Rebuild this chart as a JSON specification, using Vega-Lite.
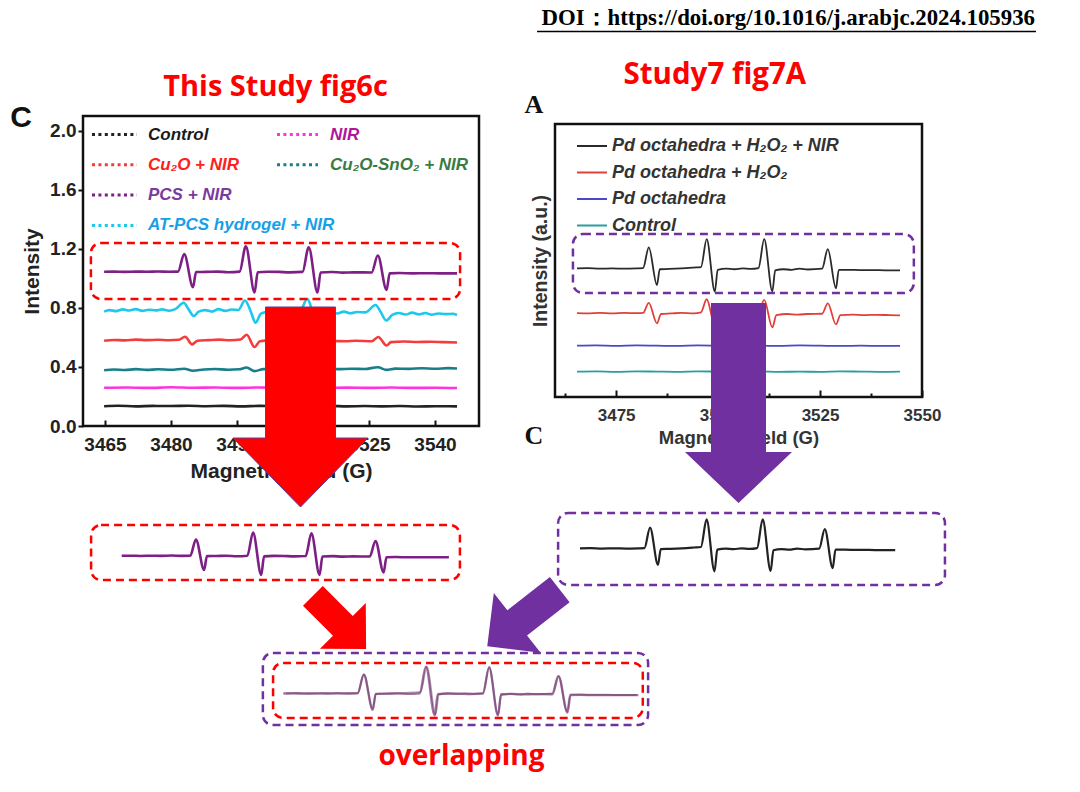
{
"$schema": "https://vega.github.io/schema/vega-lite/v6.json",
"width": 1080, "height": 792, "autosize": {"type": "none"}, "padding": 0, "background": "#ffffff",
"config": {"view": {"stroke": null}, "axis": {"grid": false}},
"datasets": {
"fig6c": [
{"field":3464.8,"intensity":0.134,"sample":"Control"},{"field":3468,"intensity":0.137,"sample":"Control"},{"field":3472,"intensity":0.133,"sample":"Control"},{"field":3476,"intensity":0.136,"sample":"Control"},{"field":3480,"intensity":0.135,"sample":"Control"},{"field":3484,"intensity":0.137,"sample":"Control"},{"field":3488,"intensity":0.134,"sample":"Control"},{"field":3492,"intensity":0.136,"sample":"Control"},{"field":3496,"intensity":0.133,"sample":"Control"},{"field":3500,"intensity":0.136,"sample":"Control"},{"field":3504,"intensity":0.134,"sample":"Control"},{"field":3508,"intensity":0.137,"sample":"Control"},{"field":3512,"intensity":0.134,"sample":"Control"},{"field":3516,"intensity":0.136,"sample":"Control"},{"field":3520,"intensity":0.133,"sample":"Control"},{"field":3524,"intensity":0.135,"sample":"Control"},{"field":3528,"intensity":0.133,"sample":"Control"},{"field":3532,"intensity":0.135,"sample":"Control"},{"field":3536,"intensity":0.132,"sample":"Control"},{"field":3540,"intensity":0.134,"sample":"Control"},{"field":3545,"intensity":0.133,"sample":"Control"},
{"field":3464.8,"intensity":0.259,"sample":"NIR"},{"field":3470,"intensity":0.261,"sample":"NIR"},{"field":3475,"intensity":0.258,"sample":"NIR"},{"field":3480,"intensity":0.262,"sample":"NIR"},{"field":3485,"intensity":0.259,"sample":"NIR"},{"field":3490,"intensity":0.261,"sample":"NIR"},{"field":3495,"intensity":0.258,"sample":"NIR"},{"field":3500,"intensity":0.261,"sample":"NIR"},{"field":3505,"intensity":0.259,"sample":"NIR"},{"field":3510,"intensity":0.262,"sample":"NIR"},{"field":3515,"intensity":0.258,"sample":"NIR"},{"field":3520,"intensity":0.26,"sample":"NIR"},{"field":3525,"intensity":0.258,"sample":"NIR"},{"field":3530,"intensity":0.261,"sample":"NIR"},{"field":3535,"intensity":0.258,"sample":"NIR"},{"field":3540,"intensity":0.259,"sample":"NIR"},{"field":3545,"intensity":0.257,"sample":"NIR"},
{"field":3464.8,"intensity":0.378,"sample":"Cu₂O-SnO₂ + NIR"},{"field":3467,"intensity":0.383,"sample":"Cu₂O-SnO₂ + NIR"},{"field":3469.5,"intensity":0.379,"sample":"Cu₂O-SnO₂ + NIR"},{"field":3472,"intensity":0.385,"sample":"Cu₂O-SnO₂ + NIR"},{"field":3474.5,"intensity":0.38,"sample":"Cu₂O-SnO₂ + NIR"},{"field":3477,"intensity":0.384,"sample":"Cu₂O-SnO₂ + NIR"},{"field":3480,"intensity":0.381,"sample":"Cu₂O-SnO₂ + NIR"},{"field":3483,"intensity":0.388,"sample":"Cu₂O-SnO₂ + NIR"},{"field":3485,"intensity":0.374,"sample":"Cu₂O-SnO₂ + NIR"},{"field":3487.5,"intensity":0.383,"sample":"Cu₂O-SnO₂ + NIR"},{"field":3490,"intensity":0.386,"sample":"Cu₂O-SnO₂ + NIR"},{"field":3493,"intensity":0.381,"sample":"Cu₂O-SnO₂ + NIR"},{"field":3495.5,"intensity":0.384,"sample":"Cu₂O-SnO₂ + NIR"},{"field":3497.2,"intensity":0.396,"sample":"Cu₂O-SnO₂ + NIR"},{"field":3499,"intensity":0.372,"sample":"Cu₂O-SnO₂ + NIR"},{"field":3501,"intensity":0.385,"sample":"Cu₂O-SnO₂ + NIR"},{"field":3504,"intensity":0.383,"sample":"Cu₂O-SnO₂ + NIR"},{"field":3507,"intensity":0.387,"sample":"Cu₂O-SnO₂ + NIR"},{"field":3510,"intensity":0.384,"sample":"Cu₂O-SnO₂ + NIR"},{"field":3511.5,"intensity":0.397,"sample":"Cu₂O-SnO₂ + NIR"},{"field":3513.3,"intensity":0.376,"sample":"Cu₂O-SnO₂ + NIR"},{"field":3515,"intensity":0.387,"sample":"Cu₂O-SnO₂ + NIR"},{"field":3518,"intensity":0.385,"sample":"Cu₂O-SnO₂ + NIR"},{"field":3521,"intensity":0.388,"sample":"Cu₂O-SnO₂ + NIR"},{"field":3524,"intensity":0.386,"sample":"Cu₂O-SnO₂ + NIR"},{"field":3527,"intensity":0.398,"sample":"Cu₂O-SnO₂ + NIR"},{"field":3529,"intensity":0.38,"sample":"Cu₂O-SnO₂ + NIR"},{"field":3531,"intensity":0.389,"sample":"Cu₂O-SnO₂ + NIR"},{"field":3534,"intensity":0.387,"sample":"Cu₂O-SnO₂ + NIR"},{"field":3537,"intensity":0.391,"sample":"Cu₂O-SnO₂ + NIR"},{"field":3540,"intensity":0.388,"sample":"Cu₂O-SnO₂ + NIR"},{"field":3543,"intensity":0.392,"sample":"Cu₂O-SnO₂ + NIR"},{"field":3545,"intensity":0.39,"sample":"Cu₂O-SnO₂ + NIR"},
{"field":3464.8,"intensity":0.578,"sample":"Cu₂O + NIR"},{"field":3467,"intensity":0.583,"sample":"Cu₂O + NIR"},{"field":3469.5,"intensity":0.58,"sample":"Cu₂O + NIR"},{"field":3472,"intensity":0.585,"sample":"Cu₂O + NIR"},{"field":3474.5,"intensity":0.582,"sample":"Cu₂O + NIR"},{"field":3477,"intensity":0.584,"sample":"Cu₂O + NIR"},{"field":3479.5,"intensity":0.581,"sample":"Cu₂O + NIR"},{"field":3481.8,"intensity":0.584,"sample":"Cu₂O + NIR"},{"field":3483.2,"intensity":0.605,"sample":"Cu₂O + NIR"},{"field":3484.8,"intensity":0.553,"sample":"Cu₂O + NIR"},{"field":3486,"intensity":0.578,"sample":"Cu₂O + NIR"},{"field":3488.5,"intensity":0.582,"sample":"Cu₂O + NIR"},{"field":3491,"intensity":0.585,"sample":"Cu₂O + NIR"},{"field":3493.5,"intensity":0.581,"sample":"Cu₂O + NIR"},{"field":3495.8,"intensity":0.586,"sample":"Cu₂O + NIR"},{"field":3497.2,"intensity":0.618,"sample":"Cu₂O + NIR"},{"field":3499,"intensity":0.535,"sample":"Cu₂O + NIR"},{"field":3500.2,"intensity":0.574,"sample":"Cu₂O + NIR"},{"field":3502.5,"intensity":0.58,"sample":"Cu₂O + NIR"},{"field":3505,"intensity":0.578,"sample":"Cu₂O + NIR"},{"field":3507.5,"intensity":0.581,"sample":"Cu₂O + NIR"},{"field":3510,"intensity":0.578,"sample":"Cu₂O + NIR"},{"field":3511.4,"intensity":0.612,"sample":"Cu₂O + NIR"},{"field":3513.3,"intensity":0.538,"sample":"Cu₂O + NIR"},{"field":3514.4,"intensity":0.572,"sample":"Cu₂O + NIR"},{"field":3517,"intensity":0.576,"sample":"Cu₂O + NIR"},{"field":3519.5,"intensity":0.574,"sample":"Cu₂O + NIR"},{"field":3522,"intensity":0.577,"sample":"Cu₂O + NIR"},{"field":3525.6,"intensity":0.574,"sample":"Cu₂O + NIR"},{"field":3527.1,"intensity":0.603,"sample":"Cu₂O + NIR"},{"field":3529,"intensity":0.545,"sample":"Cu₂O + NIR"},{"field":3530,"intensity":0.568,"sample":"Cu₂O + NIR"},{"field":3533,"intensity":0.572,"sample":"Cu₂O + NIR"},{"field":3536,"intensity":0.569,"sample":"Cu₂O + NIR"},{"field":3539,"intensity":0.571,"sample":"Cu₂O + NIR"},{"field":3542,"intensity":0.568,"sample":"Cu₂O + NIR"},{"field":3545,"intensity":0.566,"sample":"Cu₂O + NIR"},
{"field":3464.8,"intensity":0.775,"sample":"AT-PCS hydrogel + NIR"},{"field":3466,"intensity":0.785,"sample":"AT-PCS hydrogel + NIR"},{"field":3467.5,"intensity":0.778,"sample":"AT-PCS hydrogel + NIR"},{"field":3469,"intensity":0.79,"sample":"AT-PCS hydrogel + NIR"},{"field":3470.5,"intensity":0.782,"sample":"AT-PCS hydrogel + NIR"},{"field":3472,"intensity":0.792,"sample":"AT-PCS hydrogel + NIR"},{"field":3473.5,"intensity":0.78,"sample":"AT-PCS hydrogel + NIR"},{"field":3475,"intensity":0.788,"sample":"AT-PCS hydrogel + NIR"},{"field":3476.5,"intensity":0.783,"sample":"AT-PCS hydrogel + NIR"},{"field":3478,"intensity":0.79,"sample":"AT-PCS hydrogel + NIR"},{"field":3479.5,"intensity":0.781,"sample":"AT-PCS hydrogel + NIR"},{"field":3481,"intensity":0.792,"sample":"AT-PCS hydrogel + NIR"},{"field":3482.9,"intensity":0.835,"sample":"AT-PCS hydrogel + NIR"},{"field":3484,"intensity":0.79,"sample":"AT-PCS hydrogel + NIR"},{"field":3485.2,"intensity":0.745,"sample":"AT-PCS hydrogel + NIR"},{"field":3486.3,"intensity":0.775,"sample":"AT-PCS hydrogel + NIR"},{"field":3487.8,"intensity":0.785,"sample":"AT-PCS hydrogel + NIR"},{"field":3489.3,"intensity":0.775,"sample":"AT-PCS hydrogel + NIR"},{"field":3490.8,"intensity":0.792,"sample":"AT-PCS hydrogel + NIR"},{"field":3492.3,"intensity":0.78,"sample":"AT-PCS hydrogel + NIR"},{"field":3493.8,"intensity":0.789,"sample":"AT-PCS hydrogel + NIR"},{"field":3495.3,"intensity":0.786,"sample":"AT-PCS hydrogel + NIR"},{"field":3496.8,"intensity":0.85,"sample":"AT-PCS hydrogel + NIR"},{"field":3498.2,"intensity":0.77,"sample":"AT-PCS hydrogel + NIR"},{"field":3499.2,"intensity":0.7,"sample":"AT-PCS hydrogel + NIR"},{"field":3500.4,"intensity":0.76,"sample":"AT-PCS hydrogel + NIR"},{"field":3501.8,"intensity":0.775,"sample":"AT-PCS hydrogel + NIR"},{"field":3503.3,"intensity":0.79,"sample":"AT-PCS hydrogel + NIR"},{"field":3504.8,"intensity":0.772,"sample":"AT-PCS hydrogel + NIR"},{"field":3506.3,"intensity":0.785,"sample":"AT-PCS hydrogel + NIR"},{"field":3507.8,"intensity":0.768,"sample":"AT-PCS hydrogel + NIR"},{"field":3509.3,"intensity":0.778,"sample":"AT-PCS hydrogel + NIR"},{"field":3511,"intensity":0.86,"sample":"AT-PCS hydrogel + NIR"},{"field":3512.3,"intensity":0.765,"sample":"AT-PCS hydrogel + NIR"},{"field":3513.5,"intensity":0.705,"sample":"AT-PCS hydrogel + NIR"},{"field":3514.8,"intensity":0.76,"sample":"AT-PCS hydrogel + NIR"},{"field":3516.3,"intensity":0.772,"sample":"AT-PCS hydrogel + NIR"},{"field":3517.8,"intensity":0.762,"sample":"AT-PCS hydrogel + NIR"},{"field":3519.3,"intensity":0.775,"sample":"AT-PCS hydrogel + NIR"},{"field":3520.8,"intensity":0.764,"sample":"AT-PCS hydrogel + NIR"},{"field":3522.3,"intensity":0.772,"sample":"AT-PCS hydrogel + NIR"},{"field":3524.2,"intensity":0.77,"sample":"AT-PCS hydrogel + NIR"},{"field":3526.5,"intensity":0.82,"sample":"AT-PCS hydrogel + NIR"},{"field":3527.7,"intensity":0.77,"sample":"AT-PCS hydrogel + NIR"},{"field":3528.9,"intensity":0.715,"sample":"AT-PCS hydrogel + NIR"},{"field":3530.3,"intensity":0.752,"sample":"AT-PCS hydrogel + NIR"},{"field":3531.8,"intensity":0.765,"sample":"AT-PCS hydrogel + NIR"},{"field":3533.3,"intensity":0.755,"sample":"AT-PCS hydrogel + NIR"},{"field":3534.8,"intensity":0.768,"sample":"AT-PCS hydrogel + NIR"},{"field":3536.3,"intensity":0.756,"sample":"AT-PCS hydrogel + NIR"},{"field":3537.8,"intensity":0.765,"sample":"AT-PCS hydrogel + NIR"},{"field":3539.3,"intensity":0.754,"sample":"AT-PCS hydrogel + NIR"},{"field":3540.8,"intensity":0.762,"sample":"AT-PCS hydrogel + NIR"},{"field":3542.3,"intensity":0.758,"sample":"AT-PCS hydrogel + NIR"},{"field":3544,"intensity":0.76,"sample":"AT-PCS hydrogel + NIR"},{"field":3545,"intensity":0.752,"sample":"AT-PCS hydrogel + NIR"},
{"field":3464.8,"intensity":1.045,"sample":"PCS + NIR"},{"field":3467,"intensity":1.046,"sample":"PCS + NIR"},{"field":3469.5,"intensity":1.044,"sample":"PCS + NIR"},{"field":3472,"intensity":1.046,"sample":"PCS + NIR"},{"field":3474.5,"intensity":1.045,"sample":"PCS + NIR"},{"field":3477,"intensity":1.047,"sample":"PCS + NIR"},{"field":3479.5,"intensity":1.045,"sample":"PCS + NIR"},{"field":3481.6,"intensity":1.046,"sample":"PCS + NIR"},{"field":3483,"intensity":1.165,"sample":"PCS + NIR"},{"field":3485,"intensity":0.94,"sample":"PCS + NIR"},{"field":3485.7,"intensity":1.043,"sample":"PCS + NIR"},{"field":3488,"intensity":1.044,"sample":"PCS + NIR"},{"field":3490.5,"intensity":1.046,"sample":"PCS + NIR"},{"field":3493,"intensity":1.042,"sample":"PCS + NIR"},{"field":3495.6,"intensity":1.046,"sample":"PCS + NIR"},{"field":3497,"intensity":1.217,"sample":"PCS + NIR"},{"field":3499,"intensity":0.904,"sample":"PCS + NIR"},{"field":3499.7,"intensity":1.041,"sample":"PCS + NIR"},{"field":3502,"intensity":1.045,"sample":"PCS + NIR"},{"field":3504.5,"intensity":1.044,"sample":"PCS + NIR"},{"field":3507,"intensity":1.041,"sample":"PCS + NIR"},{"field":3509.9,"intensity":1.044,"sample":"PCS + NIR"},{"field":3511.3,"intensity":1.211,"sample":"PCS + NIR"},{"field":3513.3,"intensity":0.904,"sample":"PCS + NIR"},{"field":3514,"intensity":1.04,"sample":"PCS + NIR"},{"field":3516.5,"intensity":1.043,"sample":"PCS + NIR"},{"field":3519,"intensity":1.039,"sample":"PCS + NIR"},{"field":3521.5,"intensity":1.041,"sample":"PCS + NIR"},{"field":3525.6,"intensity":1.04,"sample":"PCS + NIR"},{"field":3527,"intensity":1.155,"sample":"PCS + NIR"},{"field":3529,"intensity":0.922,"sample":"PCS + NIR"},{"field":3529.7,"intensity":1.034,"sample":"PCS + NIR"},{"field":3532,"intensity":1.036,"sample":"PCS + NIR"},{"field":3535,"intensity":1.034,"sample":"PCS + NIR"},{"field":3538,"intensity":1.035,"sample":"PCS + NIR"},{"field":3541,"intensity":1.034,"sample":"PCS + NIR"},{"field":3545,"intensity":1.034,"sample":"PCS + NIR"}
],
"fig7a": [
{"field":3465.4,"intensity":0.93,"sample":"Control"},{"field":3470,"intensity":0.94,"sample":"Control"},{"field":3475,"intensity":0.92,"sample":"Control"},{"field":3480,"intensity":0.94,"sample":"Control"},{"field":3485,"intensity":0.93,"sample":"Control"},{"field":3490,"intensity":0.92,"sample":"Control"},{"field":3495,"intensity":0.94,"sample":"Control"},{"field":3500,"intensity":0.93,"sample":"Control"},{"field":3505,"intensity":0.92,"sample":"Control"},{"field":3510,"intensity":0.94,"sample":"Control"},{"field":3515,"intensity":0.92,"sample":"Control"},{"field":3520,"intensity":0.93,"sample":"Control"},{"field":3525,"intensity":0.92,"sample":"Control"},{"field":3530,"intensity":0.94,"sample":"Control"},{"field":3535,"intensity":0.93,"sample":"Control"},{"field":3540,"intensity":0.92,"sample":"Control"},{"field":3544.6,"intensity":0.93,"sample":"Control"},
{"field":3465.4,"intensity":1.88,"sample":"Pd octahedra"},{"field":3470,"intensity":1.89,"sample":"Pd octahedra"},{"field":3475,"intensity":1.87,"sample":"Pd octahedra"},{"field":3480,"intensity":1.89,"sample":"Pd octahedra"},{"field":3485,"intensity":1.88,"sample":"Pd octahedra"},{"field":3490,"intensity":1.87,"sample":"Pd octahedra"},{"field":3495,"intensity":1.89,"sample":"Pd octahedra"},{"field":3500,"intensity":1.88,"sample":"Pd octahedra"},{"field":3505,"intensity":1.86,"sample":"Pd octahedra"},{"field":3510,"intensity":1.88,"sample":"Pd octahedra"},{"field":3515,"intensity":1.87,"sample":"Pd octahedra"},{"field":3520,"intensity":1.89,"sample":"Pd octahedra"},{"field":3525,"intensity":1.88,"sample":"Pd octahedra"},{"field":3530,"intensity":1.87,"sample":"Pd octahedra"},{"field":3535,"intensity":1.88,"sample":"Pd octahedra"},{"field":3540,"intensity":1.87,"sample":"Pd octahedra"},{"field":3544.6,"intensity":1.87,"sample":"Pd octahedra"},
{"field":3465.4,"intensity":3.07,"sample":"Pd octahedra  + H₂O₂"},{"field":3468,"intensity":3.06,"sample":"Pd octahedra  + H₂O₂"},{"field":3471,"intensity":3.08,"sample":"Pd octahedra  + H₂O₂"},{"field":3474,"intensity":3.06,"sample":"Pd octahedra  + H₂O₂"},{"field":3477,"intensity":3.08,"sample":"Pd octahedra  + H₂O₂"},{"field":3480,"intensity":3.07,"sample":"Pd octahedra  + H₂O₂"},{"field":3481.6,"intensity":3.08,"sample":"Pd octahedra  + H₂O₂"},{"field":3483,"intensity":3.45,"sample":"Pd octahedra  + H₂O₂"},{"field":3485,"intensity":2.7,"sample":"Pd octahedra  + H₂O₂"},{"field":3486,"intensity":3.04,"sample":"Pd octahedra  + H₂O₂"},{"field":3488.5,"intensity":3.06,"sample":"Pd octahedra  + H₂O₂"},{"field":3491,"intensity":3.08,"sample":"Pd octahedra  + H₂O₂"},{"field":3494,"intensity":3.06,"sample":"Pd octahedra  + H₂O₂"},{"field":3495.8,"intensity":3.1,"sample":"Pd octahedra  + H₂O₂"},{"field":3497.2,"intensity":3.58,"sample":"Pd octahedra  + H₂O₂"},{"field":3499.2,"intensity":2.62,"sample":"Pd octahedra  + H₂O₂"},{"field":3500.2,"intensity":3.02,"sample":"Pd octahedra  + H₂O₂"},{"field":3502.5,"intensity":3.05,"sample":"Pd octahedra  + H₂O₂"},{"field":3505,"intensity":3.04,"sample":"Pd octahedra  + H₂O₂"},{"field":3507.5,"intensity":3.06,"sample":"Pd octahedra  + H₂O₂"},{"field":3509.9,"intensity":3.08,"sample":"Pd octahedra  + H₂O₂"},{"field":3511.3,"intensity":3.56,"sample":"Pd octahedra  + H₂O₂"},{"field":3513.3,"intensity":2.55,"sample":"Pd octahedra  + H₂O₂"},{"field":3514.3,"intensity":3.0,"sample":"Pd octahedra  + H₂O₂"},{"field":3517,"intensity":3.04,"sample":"Pd octahedra  + H₂O₂"},{"field":3519.5,"intensity":3.02,"sample":"Pd octahedra  + H₂O₂"},{"field":3522,"intensity":3.04,"sample":"Pd octahedra  + H₂O₂"},{"field":3525.5,"intensity":3.05,"sample":"Pd octahedra  + H₂O₂"},{"field":3526.9,"intensity":3.43,"sample":"Pd octahedra  + H₂O₂"},{"field":3528.9,"intensity":2.66,"sample":"Pd octahedra  + H₂O₂"},{"field":3530,"intensity":3.0,"sample":"Pd octahedra  + H₂O₂"},{"field":3533,"intensity":3.02,"sample":"Pd octahedra  + H₂O₂"},{"field":3536,"intensity":3.0,"sample":"Pd octahedra  + H₂O₂"},{"field":3539,"intensity":3.01,"sample":"Pd octahedra  + H₂O₂"},{"field":3542,"intensity":3.0,"sample":"Pd octahedra  + H₂O₂"},{"field":3544.6,"intensity":2.99,"sample":"Pd octahedra  + H₂O₂"},
{"field":3465.4,"intensity":4.71,"sample":"Pd octahedra + H₂O₂ + NIR"},{"field":3468,"intensity":4.72,"sample":"Pd octahedra + H₂O₂ + NIR"},{"field":3471,"intensity":4.7,"sample":"Pd octahedra + H₂O₂ + NIR"},{"field":3474,"intensity":4.71,"sample":"Pd octahedra + H₂O₂ + NIR"},{"field":3477,"intensity":4.7,"sample":"Pd octahedra + H₂O₂ + NIR"},{"field":3480,"intensity":4.71,"sample":"Pd octahedra + H₂O₂ + NIR"},{"field":3481.6,"intensity":4.72,"sample":"Pd octahedra + H₂O₂ + NIR"},{"field":3483,"intensity":5.48,"sample":"Pd octahedra + H₂O₂ + NIR"},{"field":3485,"intensity":4.1,"sample":"Pd octahedra + H₂O₂ + NIR"},{"field":3485.7,"intensity":4.68,"sample":"Pd octahedra + H₂O₂ + NIR"},{"field":3488,"intensity":4.69,"sample":"Pd octahedra + H₂O₂ + NIR"},{"field":3491,"intensity":4.71,"sample":"Pd octahedra + H₂O₂ + NIR"},{"field":3494,"intensity":4.74,"sample":"Pd octahedra + H₂O₂ + NIR"},{"field":3495.8,"intensity":4.76,"sample":"Pd octahedra + H₂O₂ + NIR"},{"field":3497.2,"intensity":5.78,"sample":"Pd octahedra + H₂O₂ + NIR"},{"field":3499.2,"intensity":3.86,"sample":"Pd octahedra + H₂O₂ + NIR"},{"field":3499.9,"intensity":4.66,"sample":"Pd octahedra + H₂O₂ + NIR"},{"field":3502,"intensity":4.7,"sample":"Pd octahedra + H₂O₂ + NIR"},{"field":3504,"intensity":4.68,"sample":"Pd octahedra + H₂O₂ + NIR"},{"field":3506,"intensity":4.71,"sample":"Pd octahedra + H₂O₂ + NIR"},{"field":3508,"intensity":4.69,"sample":"Pd octahedra + H₂O₂ + NIR"},{"field":3509.9,"intensity":4.72,"sample":"Pd octahedra + H₂O₂ + NIR"},{"field":3511.3,"intensity":5.78,"sample":"Pd octahedra + H₂O₂ + NIR"},{"field":3513.3,"intensity":3.87,"sample":"Pd octahedra + H₂O₂ + NIR"},{"field":3514,"intensity":4.64,"sample":"Pd octahedra + H₂O₂ + NIR"},{"field":3516,"intensity":4.68,"sample":"Pd octahedra + H₂O₂ + NIR"},{"field":3518,"intensity":4.66,"sample":"Pd octahedra + H₂O₂ + NIR"},{"field":3520,"intensity":4.7,"sample":"Pd octahedra + H₂O₂ + NIR"},{"field":3522,"intensity":4.67,"sample":"Pd octahedra + H₂O₂ + NIR"},{"field":3525.5,"intensity":4.7,"sample":"Pd octahedra + H₂O₂ + NIR"},{"field":3526.9,"intensity":5.42,"sample":"Pd octahedra + H₂O₂ + NIR"},{"field":3528.9,"intensity":3.98,"sample":"Pd octahedra + H₂O₂ + NIR"},{"field":3529.6,"intensity":4.66,"sample":"Pd octahedra + H₂O₂ + NIR"},{"field":3532,"intensity":4.66,"sample":"Pd octahedra + H₂O₂ + NIR"},{"field":3535,"intensity":4.65,"sample":"Pd octahedra + H₂O₂ + NIR"},{"field":3538,"intensity":4.65,"sample":"Pd octahedra + H₂O₂ + NIR"},{"field":3541,"intensity":4.64,"sample":"Pd octahedra + H₂O₂ + NIR"},{"field":3544.6,"intensity":4.64,"sample":"Pd octahedra + H₂O₂ + NIR"}
]
},
"resolve": {"scale": {"x": "independent", "y": "independent", "color": "independent"}, "axis": {"x": "independent", "y": "independent"}, "legend": {"color": "independent"}},
"layer": [
{"data": {"values": [{}]}, "mark": {"type": "rect", "filled": false, "stroke": "#111111", "strokeWidth": 2.5},
 "encoding": {"x": {"datum": 3460, "type": "quantitative", "scale": {"domain":[3460,3550],"range":[83,479],"nice":false,"zero":false}, "axis": null}, "x2": {"datum": 3550},
  "y": {"datum": 0, "type": "quantitative", "scale": {"domain":[0,2.1],"range":[426,116],"nice":false,"zero":false}, "axis": null}, "y2": {"datum": 2.1}}},
{"data": {"name": "fig6c"}, "transform": [{"filter": {"field": "sample", "oneOf": ["Control", "Cu₂O + NIR", "PCS + NIR", "AT-PCS hydrogel + NIR"]}}],
 "mark": {"type": "line", "strokeWidth": 2.6, "interpolate": "monotone"},
 "encoding": {
  "x": {"field": "field", "type": "quantitative", "scale": {"domain":[3460,3550],"range":[83,479],"nice":false,"zero":false},
   "axis": {"orient": "bottom", "offset": -366, "values": [3465,3480,3495,3510,3525,3540], "format": "d", "domain": false, "tickSize": -6, "tickWidth": 2, "tickColor": "#111111", "labelFont": "Liberation Sans", "labelFontSize": 19, "labelFontWeight": "bold", "labelColor": "#222222", "labelPadding": 15, "labelOverlap": false, "labelFlush": false, "title": "Magnetic Field (G)", "titleFont": "Liberation Sans", "titleFontSize": 21, "titleFontWeight": "bold", "titleColor": "#222222", "titlePadding": 6, "grid": false}},
  "y": {"field": "intensity", "type": "quantitative", "scale": {"domain":[0,2.1],"range":[426,116],"nice":false,"zero":false},
   "axis": {"orient": "left", "offset": -83, "values": [0,0.4,0.8,1.2,1.6,2.0], "format": ".1f", "domain": false, "tickSize": 5, "tickWidth": 2, "tickColor": "#111111", "labelFont": "Liberation Sans", "labelFontSize": 19, "labelFontWeight": "bold", "labelColor": "#222222", "labelPadding": 2, "labelOverlap": false, "labelFlush": false, "title": "Intensity", "titleFont": "Liberation Sans", "titleFontSize": 21, "titleFontWeight": "bold", "titleColor": "#222222", "titlePadding": 7, "grid": false}},
  "color": {"field": "sample", "type": "nominal", "scale": {"domain": ["Control", "Cu₂O + NIR", "PCS + NIR", "AT-PCS hydrogel + NIR"], "range": ["#222222", "#f43c3c", "#7e1f86", "#1ec8ec"]},
   "legend": {"orient": "none", "legendX": 92, "legendY": 123, "title": null, "padding": 0, "symbolType": "M-2.25,0H2.25", "symbolSize": 400, "symbolStrokeWidth": 3, "symbolDash": [3, 3.4], "symbolOffset": 11, "symbolFillColor": "transparent", "labelFont": "Liberation Sans", "labelFontSize": 17, "labelFontStyle": "italic", "labelFontWeight": "bold", "labelOffset": 22, "labelLimit": 400, "rowPadding": 10.3,
    "encode": {"labels": {"update": {"fill": {"signal": "datum.value === 'Control' ? '#1a1a1a' : datum.value === 'Cu₂O + NIR' ? '#ff2020' : datum.value === 'PCS + NIR' ? '#7a3a9e' : '#17a0e6'"}}}}}}
 }},
{"data": {"name": "fig6c"}, "transform": [{"filter": {"field": "sample", "oneOf": ["NIR", "Cu₂O-SnO₂ + NIR"]}}],
 "mark": {"type": "line", "strokeWidth": 2.6, "interpolate": "monotone"},
 "encoding": {
  "x": {"field": "field", "type": "quantitative", "scale": {"domain":[3460,3550],"range":[83,479],"nice":false,"zero":false}, "axis": null},
  "y": {"field": "intensity", "type": "quantitative", "scale": {"domain":[0,2.1],"range":[426,116],"nice":false,"zero":false}, "axis": null},
  "color": {"field": "sample", "type": "nominal", "scale": {"domain": ["NIR", "Cu₂O-SnO₂ + NIR"], "range": ["#ff33dd", "#177e8a"]},
   "legend": {"orient": "none", "legendX": 277, "legendY": 123, "title": null, "padding": 0, "symbolType": "M-2.05,0H2.05", "symbolSize": 400, "symbolStrokeWidth": 3, "symbolDash": [3, 3.4], "symbolOffset": 9, "symbolFillColor": "transparent", "labelFont": "Liberation Sans", "labelFontSize": 17, "labelFontStyle": "italic", "labelFontWeight": "bold", "labelOffset": 21, "labelLimit": 400, "rowPadding": 10.3,
    "encode": {"labels": {"update": {"fill": {"signal": "datum.value === 'NIR' ? '#b0169c' : '#3a7b42'"}}}}}}
 }},
{"data": {"values": [{}]}, "mark": {"type": "rect", "filled": false, "stroke": "#ff0000", "strokeWidth": 2.5, "strokeDash": [8, 5], "cornerRadius": 10},
 "encoding": {"x": {"datum": 3461.8, "type": "quantitative", "scale": {"domain":[3460,3550],"range":[83,479],"nice":false,"zero":false}, "axis": null}, "x2": {"datum": 3545.7},
  "y": {"datum": 1.2397, "type": "quantitative", "scale": {"domain":[0,2.1],"range":[426,116],"nice":false,"zero":false}, "axis": null}, "y2": {"datum": 0.8603}}},
{"data": {"values": [{}]}, "mark": {"type": "text", "text": "This Study fig6c", "font": "Open Sans", "fontSize": 29, "fontWeight": "bold", "color": "#ff0000", "align": "center", "baseline": "middle"},
 "encoding": {"x": {"datum": 3503.75, "type": "quantitative", "scale": {"domain":[3460,3550],"range":[83,479],"nice":false,"zero":false}, "axis": null},
  "y": {"datum": 2.2965, "type": "quantitative", "scale": {"domain":[0,2.1],"range":[426,116],"nice":false,"zero":false}, "axis": null}}},
{"data": {"values": [{}]}, "mark": {"type": "text", "text": "C", "font": "Liberation Sans", "fontSize": 30, "fontWeight": "bold", "color": "#111111", "align": "center", "baseline": "middle"},
 "encoding": {"x": {"datum": 3445.9, "type": "quantitative", "scale": {"domain":[3460,3550],"range":[83,479],"nice":false,"zero":false}, "axis": null},
  "y": {"datum": 2.0865, "type": "quantitative", "scale": {"domain":[0,2.1],"range":[426,116],"nice":false,"zero":false}, "axis": null}}},
{"data": {"values": [{}]}, "mark": {"type": "rect", "filled": false, "stroke": "#111111", "strokeWidth": 2.5},
 "encoding": {"x": {"datum": 3460, "type": "quantitative", "scale": {"domain":[3460,3550],"range":[555,922],"nice":false,"zero":false}, "axis": null}, "x2": {"datum": 3550},
  "y": {"datum": 0, "type": "quantitative", "scale": {"domain":[0,10],"range":[397,124],"nice":false,"zero":false}, "axis": null}, "y2": {"datum": 10}}},
{"data": {"name": "fig7a"},
 "mark": {"type": "line", "strokeWidth": 1.8, "interpolate": "monotone"},
 "encoding": {
  "x": {"field": "field", "type": "quantitative", "scale": {"domain":[3460,3550],"range":[555,922],"nice":false,"zero":false},
   "axis": {"orient": "bottom", "offset": -395, "values": [3462.5,3475,3487.5,3500,3512.5,3525,3537.5,3550], "format": "d", "labelExpr": "datum.value % 25 === 0 ? datum.label : ''", "domain": false, "tickSize": {"condition": {"test": "datum.value % 25 === 0", "value": -7}, "value": -4}, "tickWidth": 2, "tickColor": "#111111", "labelFont": "Liberation Sans", "labelFontSize": 17, "labelFontWeight": "bold", "labelColor": "#333333", "labelPadding": 17, "labelOverlap": false, "labelFlush": false, "title": "Magnetic Field (G)", "titleFont": "Liberation Sans", "titleFontSize": 18.5, "titleFontWeight": "bold", "titleColor": "#333333", "titlePadding": 2, "grid": false}},
  "y": {"field": "intensity", "type": "quantitative", "scale": {"domain":[0,10],"range":[397,124],"nice":false,"zero":false},
   "axis": {"orient": "left", "offset": -555, "domain": false, "ticks": false, "labels": false, "title": "Intensity (a.u.)", "titleFont": "Liberation Sans", "titleFontSize": 19.5, "titleFontWeight": "bold", "titleColor": "#333333", "titlePadding": 5, "grid": false}},
  "color": {"field": "sample", "type": "nominal", "scale": {"domain": ["Pd octahedra + H₂O₂ + NIR", "Pd octahedra  + H₂O₂", "Pd octahedra", "Control"], "range": ["#2a2a2a", "#e0403a", "#4848c8", "#2a9d9d"]},
   "legend": {"orient": "none", "legendX": 577, "legendY": 135, "title": null, "padding": 0, "symbolType": "M-1.5,0H1.5", "symbolSize": 400, "symbolStrokeWidth": 2, "symbolOffset": 4, "symbolFillColor": "transparent", "labelFont": "Liberation Sans", "labelFontSize": 18, "labelFontStyle": "italic", "labelFontWeight": "bold", "labelColor": "#333333", "labelOffset": 9, "labelLimit": 400, "rowPadding": 6.5}}
 }},
{"data": {"values": [{}]}, "mark": {"type": "rect", "filled": false, "stroke": "#7030a0", "strokeWidth": 2.5, "strokeDash": [8, 5], "cornerRadius": 10},
 "encoding": {"x": {"datum": 3464.4, "type": "quantitative", "scale": {"domain":[3460,3550],"range":[555,922],"nice":false,"zero":false}, "axis": null}, "x2": {"datum": 3548.0},
  "y": {"datum": 5.97, "type": "quantitative", "scale": {"domain":[0,10],"range":[397,124],"nice":false,"zero":false}, "axis": null}, "y2": {"datum": 3.81}}},
{"data": {"values": [{}]}, "mark": {"type": "text", "text": "Study7 fig7A", "font": "Open Sans", "fontSize": 29.5, "fontWeight": "bold", "color": "#ff0000", "align": "center", "baseline": "middle"},
 "encoding": {"x": {"datum": 3499.2, "type": "quantitative", "scale": {"domain":[3460,3550],"range":[555,922],"nice":false,"zero":false}, "axis": null},
  "y": {"datum": 11.795, "type": "quantitative", "scale": {"domain":[0,10],"range":[397,124],"nice":false,"zero":false}, "axis": null}}},
{"data": {"values": [{}]}, "mark": {"type": "text", "text": "A", "font": "Liberation Serif", "fontSize": 26, "fontWeight": "bold", "color": "#111111", "align": "center", "baseline": "middle"},
 "encoding": {"x": {"datum": 3454.85, "type": "quantitative", "scale": {"domain":[3460,3550],"range":[555,922],"nice":false,"zero":false}, "axis": null},
  "y": {"datum": 10.696, "type": "quantitative", "scale": {"domain":[0,10],"range":[397,124],"nice":false,"zero":false}, "axis": null}}},
{"data": {"values": [{}]}, "mark": {"type": "text", "text": "C", "font": "Liberation Serif", "fontSize": 26, "fontWeight": "bold", "color": "#111111", "align": "center", "baseline": "middle"},
 "encoding": {"x": {"datum": 3454.85, "type": "quantitative", "scale": {"domain":[3460,3550],"range":[555,922],"nice":false,"zero":false}, "axis": null},
  "y": {"datum": -1.4286, "type": "quantitative", "scale": {"domain":[0,10],"range":[397,124],"nice":false,"zero":false}, "axis": null}}},
{"data": {"values": [{}]}, "mark": {"type": "text", "text": "DOI：https://doi.org/10.1016/j.arabjc.2024.105936", "font": "Liberation Serif", "fontSize": 22.8, "fontWeight": "bold", "color": "#000000", "align": "right", "baseline": "alphabetic"},
 "encoding": {"x": {"datum": 3577.7, "type": "quantitative", "scale": {"domain":[3460,3550],"range":[555,922],"nice":false,"zero":false}, "axis": null},
  "y": {"datum": 13.626, "type": "quantitative", "scale": {"domain":[0,10],"range":[397,124],"nice":false,"zero":false}, "axis": null}}},
{"data": {"values": [{}]}, "mark": {"type": "rule", "color": "#000000", "strokeWidth": 1.5},
 "encoding": {"x": {"datum": 3455.6, "type": "quantitative", "scale": {"domain":[3460,3550],"range":[555,922],"nice":false,"zero":false}, "axis": null}, "x2": {"datum": 3577.95},
  "y": {"datum": 13.388, "type": "quantitative", "scale": {"domain":[0,10],"range":[397,124],"nice":false,"zero":false}, "axis": null}}},
{"data": {"values": [{}]}, "mark": {"type": "point", "shape": "M-0.35,-1L0.35,-1L0.35,0.31L0.675,0.31L0,1L-0.675,0.31L-0.35,0.31Z", "size": 40000, "filled": true, "fill": "#ff0000", "stroke": "#5a3f9f", "strokeWidth": 1, "opacity": 1},
 "encoding": {"x": {"datum": 3509.43, "type": "quantitative", "scale": {"domain":[3460,3550],"range":[83,479],"nice":false,"zero":false}, "axis": null},
  "y": {"datum": 0.1287, "type": "quantitative", "scale": {"domain":[0,2.1],"range":[426,116],"nice":false,"zero":false}, "axis": null}}},
{"data": {"values": [{}]}, "mark": {"type": "point", "shape": "M-0.275,-1L0.275,-1L0.275,0.49L0.535,0.49L0,1L-0.535,0.49L-0.275,0.49Z", "size": 40000, "filled": true, "fill": "#7030a0", "strokeWidth": 0, "opacity": 1},
 "encoding": {"x": {"datum": 3505.0, "type": "quantitative", "scale": {"domain":[3460,3550],"range":[555,922],"nice":false,"zero":false}, "axis": null},
  "y": {"datum": -0.22, "type": "quantitative", "scale": {"domain":[0,10],"range":[397,124],"nice":false,"zero":false}, "axis": null}}},
{"data": {"name": "fig6c"}, "transform": [{"filter": "datum.sample === 'PCS + NIR'"}], "mark": {"type": "line", "color": "#7e1f86", "strokeWidth": 2.6, "interpolate": "monotone"},
 "encoding": {"x": {"field": "field", "type": "quantitative", "scale": {"domain":[3460,3550],"range":[102.1,469.3],"nice":false,"zero":false}, "axis": null},
  "y": {"field": "intensity", "type": "quantitative", "scale": {"domain":[0.8,1.3],"range":[588.9,521.4],"nice":false,"zero":false}, "axis": null}}},
{"data": {"values": [{}]}, "mark": {"type": "rect", "filled": false, "stroke": "#ff0000", "strokeWidth": 2.5, "strokeDash": [8, 5], "cornerRadius": 10},
 "encoding": {"x": {"datum": 3457.3, "type": "quantitative", "scale": {"domain":[3460,3550],"range":[102.1,469.3],"nice":false,"zero":false}, "axis": null}, "x2": {"datum": 3547.7},
  "y": {"datum": 1.273, "type": "quantitative", "scale": {"domain":[0.8,1.3],"range":[588.9,521.4],"nice":false,"zero":false}, "axis": null}, "y2": {"datum": 0.866}}},
{"data": {"name": "fig7a"}, "transform": [{"filter": "datum.sample === 'Pd octahedra + H₂O₂ + NIR'"}], "mark": {"type": "line", "color": "#222222", "strokeWidth": 2.2, "interpolate": "monotone"},
 "encoding": {"x": {"field": "field", "type": "quantitative", "scale": {"domain":[3460,3550],"range":[558.5,916.7],"nice":false,"zero":false}, "axis": null},
  "y": {"field": "intensity", "type": "quantitative", "scale": {"domain":[0,10],"range":[675.5,405.5],"nice":false,"zero":false}, "axis": null}}},
{"data": {"values": [{}]}, "mark": {"type": "rect", "filled": false, "stroke": "#7030a0", "strokeWidth": 2.5, "strokeDash": [8, 5], "cornerRadius": 10},
 "encoding": {"x": {"datum": 3459.9, "type": "quantitative", "scale": {"domain":[3460,3550],"range":[558.5,916.7],"nice":false,"zero":false}, "axis": null}, "x2": {"datum": 3557.1},
  "y": {"datum": 6.02, "type": "quantitative", "scale": {"domain":[0,10],"range":[675.5,405.5],"nice":false,"zero":false}, "axis": null}, "y2": {"datum": 3.35}}},
{"data": {"name": "fig6c"}, "transform": [{"filter": "datum.sample === 'PCS + NIR'"}], "mark": {"type": "line", "color": "#9a5c98", "strokeWidth": 2.3, "opacity": 0.85, "interpolate": "monotone"},
 "encoding": {"x": {"field": "field", "type": "quantitative", "scale": {"domain":[3460,3550],"range":[262,660.5],"nice":false,"zero":false}, "axis": null},
  "y": {"field": "intensity", "type": "quantitative", "scale": {"domain":[0.8,1.3],"range":[731.7,653.7],"nice":false,"zero":false}, "axis": null}}},
{"data": {"name": "fig7a"}, "transform": [{"filter": "datum.sample === 'Pd octahedra + H₂O₂ + NIR'"}], "mark": {"type": "line", "color": "#5a3a5a", "strokeWidth": 2, "opacity": 0.45, "interpolate": "monotone"},
 "encoding": {"x": {"field": "field", "type": "quantitative", "scale": {"domain":[3460,3550],"range":[262,660.5],"nice":false,"zero":false}, "axis": null},
  "y": {"field": "intensity", "type": "quantitative", "scale": {"domain":[0,10],"range":[810.6,561.6],"nice":false,"zero":false}, "axis": null}}},
{"data": {"values": [{}]}, "mark": {"type": "rect", "filled": false, "stroke": "#7030a0", "strokeWidth": 2.5, "strokeDash": [8, 5], "cornerRadius": 10},
 "encoding": {"x": {"datum": 3460.2, "type": "quantitative", "scale": {"domain":[3460,3550],"range":[262,660.5],"nice":false,"zero":false}, "axis": null}, "x2": {"datum": 3547.2},
  "y": {"datum": 1.3045, "type": "quantitative", "scale": {"domain":[0.8,1.3],"range":[731.7,653.7],"nice":false,"zero":false}, "axis": null}, "y2": {"datum": 0.843}}},
{"data": {"values": [{}]}, "mark": {"type": "rect", "filled": false, "stroke": "#ff0000", "strokeWidth": 2.5, "strokeDash": [8, 5], "cornerRadius": 10},
 "encoding": {"x": {"datum": 3462.5, "type": "quantitative", "scale": {"domain":[3460,3550],"range":[262,660.5],"nice":false,"zero":false}, "axis": null}, "x2": {"datum": 3546.0},
  "y": {"datum": 1.2404, "type": "quantitative", "scale": {"domain":[0.8,1.3],"range":[731.7,653.7],"nice":false,"zero":false}, "axis": null}, "y2": {"datum": 0.888}}},
{"data": {"values": [{}]}, "mark": {"type": "text", "text": "overlapping", "font": "Open Sans", "fontSize": 28, "fontWeight": "bold", "color": "#ff0000", "align": "center", "baseline": "alphabetic"},
 "encoding": {"x": {"datum": 3505.05, "type": "quantitative", "scale": {"domain":[3460,3550],"range":[262,660.5],"nice":false,"zero":false}, "axis": null},
  "y": {"datum": 0.5865, "type": "quantitative", "scale": {"domain":[0.8,1.3],"range":[731.7,653.7],"nice":false,"zero":false}, "axis": null}}},
{"data": {"values": [{}]}, "mark": {"type": "point", "shape": "M-0.35,-0.94L0.35,-0.94L0.35,0.12L0.81,0.12L0,0.94L-0.81,0.12L-0.35,0.12Z", "size": 6400, "angle": 315, "filled": true, "fill": "#ff0000", "strokeWidth": 0, "opacity": 1},
 "encoding": {"x": {"datum": 3477.5, "type": "quantitative", "scale": {"domain":[3460,3550],"range":[262,660.5],"nice":false,"zero":false}, "axis": null},
  "y": {"datum": 1.5, "type": "quantitative", "scale": {"domain":[0.8,1.3],"range":[731.7,653.7],"nice":false,"zero":false}, "axis": null}}},
{"data": {"values": [{}]}, "mark": {"type": "point", "shape": "M-0.32,-0.92L0.32,-0.92L0.32,0.16L0.76,0.16L0,0.92L-0.76,0.16L-0.32,0.16Z", "size": 10000, "angle": 52, "filled": true, "fill": "#7030a0", "strokeWidth": 0, "opacity": 1},
 "encoding": {"x": {"datum": 3519.06, "type": "quantitative", "scale": {"domain":[3460,3550],"range":[262,660.5],"nice":false,"zero":false}, "axis": null},
  "y": {"datum": 1.529, "type": "quantitative", "scale": {"domain":[0.8,1.3],"range":[731.7,653.7],"nice":false,"zero":false}, "axis": null}}}
]
}
